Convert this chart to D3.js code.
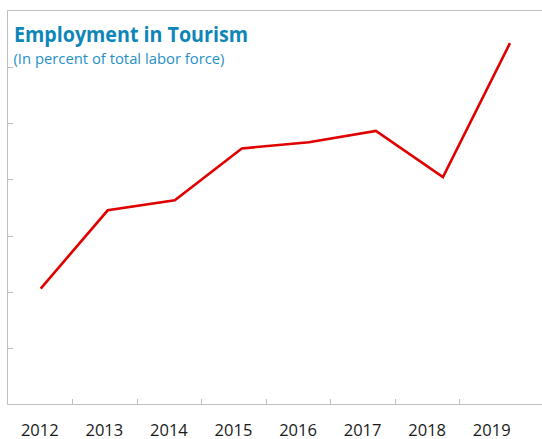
<!DOCTYPE html>
<html>
<head>
<meta charset="utf-8">
<script src="https://cdn.jsdelivr.net/npm/d3@7/dist/d3.min.js"></script>
<style>
  html, body { margin: 0; padding: 0; background: #fff; }
  svg { display: block; }
</style>
</head>
<body>
<svg id="chart" width="542" height="439"></svg>
<script>
const years = ["2012", "2013", "2014", "2015", "2016", "2017", "2018", "2019"];
const employment = [2.06, 3.45, 3.63, 4.55, 4.66, 4.86, 4.04, 6.42];
const yTicks = [0, 1, 2, 3, 4, 5, 6, 7];
const titleText = "Employment in Tourism";
const subtitleText = "(In percent of total labor force)";

const svg = d3.select("#chart");
const mLeft = 7.5, mRight = 542, mTop = 10.5, mBottom = 404.5;

const y = d3.scaleLinear().domain([0, 7]).range([mBottom, mTop]);
const xBand = d3.scaleBand().domain(years).range([mLeft, 524]);
const xPoint = d3.scalePoint().domain(years).range([40.7, 510]);

const frameColor = "#bfbfbf";

// frame lines
svg.append("line").attr("x1", mLeft).attr("x2", mLeft).attr("y1", mTop).attr("y2", mBottom)
  .attr("stroke", frameColor).attr("stroke-width", 1);
svg.append("line").attr("x1", mLeft).attr("x2", mRight).attr("y1", mTop).attr("y2", mTop)
  .attr("stroke", frameColor).attr("stroke-width", 1);
svg.append("line").attr("x1", mLeft).attr("x2", mRight).attr("y1", mBottom).attr("y2", mBottom)
  .attr("stroke", frameColor).attr("stroke-width", 1);

// y ticks (inward)
svg.selectAll(".ytick").data(yTicks.slice(1, -1)).enter().append("line")
  .attr("class", "ytick")
  .attr("x1", mLeft).attr("x2", mLeft + 5.5)
  .attr("y1", d => Math.round(y(d)) + 0.5).attr("y2", d => Math.round(y(d)) + 0.5)
  .attr("stroke", frameColor).attr("stroke-width", 1);

// x ticks at band boundaries
svg.selectAll(".xtick").data(years.slice(1)).enter().append("line")
  .attr("class", "xtick")
  .attr("x1", d => Math.round(xBand(d)) + 0.5).attr("x2", d => Math.round(xBand(d)) + 0.5)
  .attr("y1", mBottom).attr("y2", mBottom - 5.5)
  .attr("stroke", frameColor).attr("stroke-width", 1);

// x labels
svg.selectAll(".xlabel").data(years).enter().append("text")
  .attr("class", "xlabel")
  .attr("x", d => xBand(d) + xBand.bandwidth() / 2)
  .attr("y", 435.5)
  .attr("text-anchor", "middle")
  .attr("font-family", "'Liberation Sans Narrow', 'Open Sans', sans-serif")
  .attr("font-size", 16.5)
  .attr("fill", "#1a1a1a")
  .text(d => d);

// line
const line = d3.line()
  .x((d, i) => xPoint(years[i]))
  .y(d => y(d));
svg.append("path").datum(employment)
  .attr("d", line)
  .attr("fill", "none")
  .attr("stroke", "#e00000")
  .attr("stroke-width", 2.6)
  .attr("stroke-linejoin", "miter");

// title
svg.append("text")
  .attr("x", 14).attr("y", 41.5)
  .attr("font-family", "'Open Sans', sans-serif")
  .attr("font-weight", "bold")
  .attr("font-size", 22)
  .attr("fill", "#0e86b8")
  .attr("textLength", 234)
  .attr("lengthAdjust", "spacingAndGlyphs")
  .text(titleText);

svg.append("text")
  .attr("x", 13.5).attr("y", 64)
  .attr("font-family", "'Open Sans', sans-serif")
  .attr("font-size", 15)
  .attr("fill", "#2590c6")
  .attr("textLength", 211)
  .attr("lengthAdjust", "spacingAndGlyphs")
  .text(subtitleText);
</script>
</body>
</html>
